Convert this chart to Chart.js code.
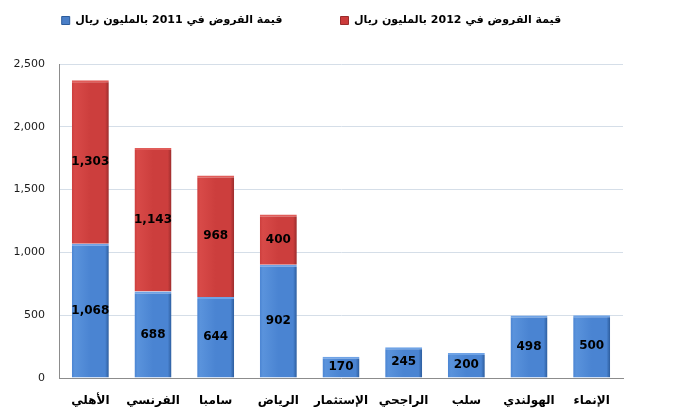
<!DOCTYPE html>
<html><head><meta charset="utf-8">
<script src="https://cdn.jsdelivr.net/npm/chart.js@4/dist/chart.umd.min.js"></script>
<style>html,body{margin:0;padding:0;background:#fff}#wrap{width:675px;height:412px}</style>
</head><body><div id="wrap"><canvas id="c" width="675" height="412"></canvas></div>
<script>
const categories = ["الأهلي","الفرنسي","سامبا","الرياض","الإستثمار","الراجحي","سلب","الهولندي","الإنماء"];
const loans2011 = [1068, 688, 644, 902, 170, 245, 200, 498, 500];
const loans2012 = [1303, 1143, 968, 400, null, null, null, null, null];
const seriesNames = ["قيمة القروض في 2011 بالمليون ريال","قيمة القروض في 2012 بالمليون ريال"];
const yTicks = [0, 500, 1000, 1500, 2000, 2500];

const BAR_PCT = 0.59;
const palette = [
  {dark:'#2C5C9C', mid:'#4A84D2', light:'#5A93DC', top:'#6FA3E6', solid:'#4A7FC8'},
  {dark:'#9A2C2C', mid:'#CC3E3D', light:'#D84A48', top:'#E05C59', solid:'#CC3B3B'}
];
function fillFor(c, p){
  const chart = c.chart, xs = chart.scales && chart.scales.x;
  if (c.type !== 'data' || !xs || !xs.width) return p.solid;
  const cx = xs.getPixelForValue(c.dataIndex);
  const w = xs.width / categories.length * BAR_PCT;
  const g = chart.ctx.createLinearGradient(cx - w/2, 0, cx + w/2, 0);
  g.addColorStop(0, p.mid);
  g.addColorStop(0.08, p.light);
  g.addColorStop(0.5, p.mid);
  g.addColorStop(0.9, p.mid);
  g.addColorStop(1, p.dark);
  return g;
}
const fmt = v => v.toLocaleString('en-US');

const labelPlugin = {
  id:'vals',
  afterDatasetsDraw(chart){
    const ctx = chart.ctx;
    ctx.save();
    ctx.font = 'bold 12px "DejaVu Sans", sans-serif';
    ctx.fillStyle = '#000';
    ctx.textAlign = 'center';
    ctx.textBaseline = 'middle';
    chart.data.datasets.forEach((ds, di) => {
      const meta = chart.getDatasetMeta(di);
      meta.data.forEach((el, i) => {
        const v = ds.data[i];
        if (v == null) return;
        ctx.fillText(fmt(v), el.x, (el.y + el.base) / 2);
      });
    });
    ctx.restore();
  }
};

const LEG_PAD = 58;
new Chart(document.getElementById('c'), {
  type:'bar',
  data:{
    labels: categories,
    datasets:[
      {label: seriesNames[0], data: loans2011, backgroundColor: c => fillFor(c, palette[0]),
       borderColor: palette[0].top, borderWidth:{top:2,left:0,right:0,bottom:0}, borderSkipped:false},
      {label: seriesNames[1], data: loans2012, backgroundColor: c => fillFor(c, palette[1]),
       borderColor: palette[1].top, borderWidth:{top:2,left:0,right:0,bottom:0}, borderSkipped:false}
    ]
  },
  options:{
    responsive:false,
    animation:false,
    devicePixelRatio:1,
    layout:{padding:{left:0,right:52,top:8,bottom:0}},
    datasets:{bar:{categoryPercentage:1, barPercentage:BAR_PCT}},
    plugins:{
      tooltip:{enabled:false},
      legend:{
        position:'top',
        align:'center',
        textDirection:'rtl',
        labels:{
          boxWidth:8, boxHeight:8, padding:LEG_PAD,
          color:'#000',
          font:{family:'"DejaVu Sans", sans-serif', size:11, weight:'bold'},
          generateLabels(chart){
            return chart.data.datasets.map((ds, i) => ({
              text: ds.label, fillStyle: palette[i].solid, strokeStyle: palette[i].dark,
              lineWidth:1, datasetIndex:i, hidden:false
            }));
          }
        }
      }
    },
    scales:{
      x:{
        stacked:true,
        afterFit(s){ s.height = 34; },
        grid:{display:false, drawTicks:false},
        border:{display:true, color:'#8C8C8C', width:1},
        ticks:{color:'#000', padding:16, font:{family:'"DejaVu Sans", sans-serif', size:12, weight:'bold'}}
      },
      y:{
        stacked:true,
        min:0, max:2500,
        afterFit(s){ s.width = 59; },
        afterBuildTicks(s){ s.ticks = yTicks.map(v => ({value:v})); },
        grid:{color:'#D5DEE8', drawTicks:false},
        border:{display:true, color:'#8C8C8C', width:1},
        ticks:{color:'#1A1A1A', padding:14, callback: v => fmt(v), font:{family:'"DejaVu Sans", sans-serif', size:11}}
      }
    }
  },
  plugins:[labelPlugin, {
    id:'legendGap',
    beforeInit(chart){
      const lg = chart.legend;
      const fit = lg.fit;
      lg.fit = function(){ lg.maxWidth = 2000; fit.call(lg); lg.height = 56; };
    },
    afterLayout(chart){
      const lg = chart.legend;
      lg.left = -60; lg.right = 683; lg.width = lg.right - lg.left;
      lg.top = 15 - LEG_PAD; lg.bottom = 60; lg.height = lg.bottom - lg.top;
    }
  }]
});
</script>
</body></html>
